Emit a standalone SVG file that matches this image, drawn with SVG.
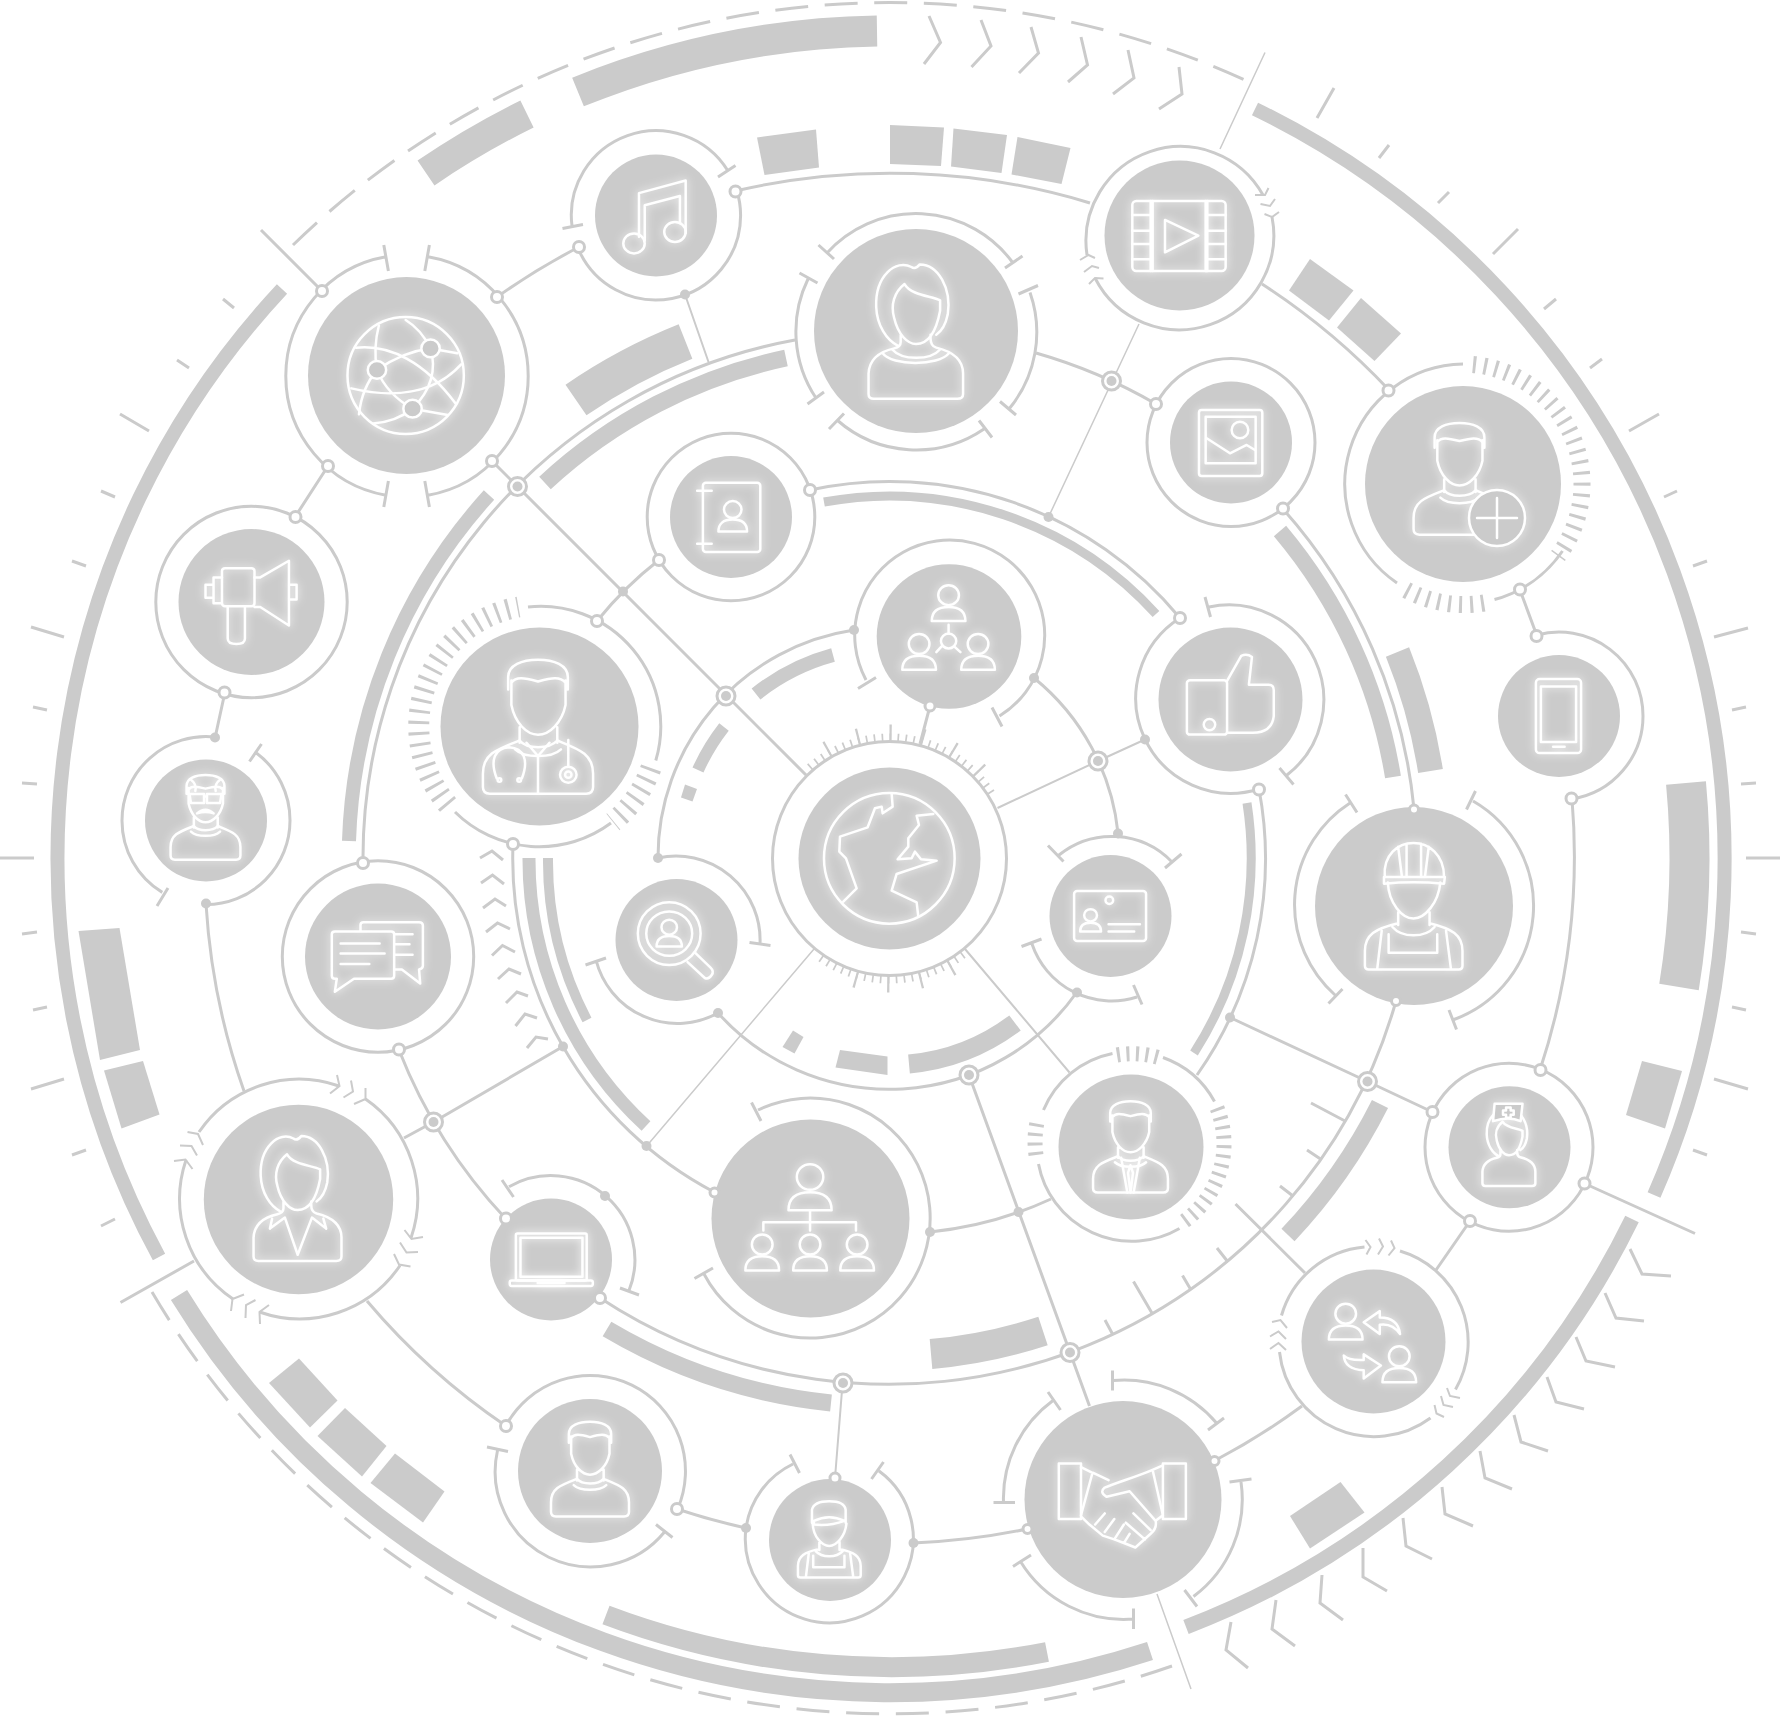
<svg xmlns="http://www.w3.org/2000/svg" xmlns:xlink="http://www.w3.org/1999/xlink" width="1780" height="1718" viewBox="0 0 1780 1718">
<style>
.l{fill:none;stroke:#cbcbcb;stroke-width:3}
.m{fill:none;stroke:#cbcbcb;stroke-width:2}
.t{fill:none;stroke:#cbcbcb;stroke-width:1.5}
.k{fill:none;stroke:#cbcbcb}
.tk{fill:none;stroke:#cbcbcb;stroke-dasharray:3 8}
.b{fill:#cbcbcb}
.d{fill:#cbcbcb}
.o{fill:#fff;stroke:#cbcbcb;stroke-width:3}
.s{fill:#cbcbcb}
.i{fill:none;stroke:#fff;stroke-width:2.5;stroke-linejoin:round;stroke-linecap:round}
.i,.i *{vector-effect:non-scaling-stroke}
.f{fill:#cbcbcb}
</style>
<defs>
<filter id="glow" x="-30%" y="-30%" width="160%" height="160%"><feGaussianBlur in="SourceGraphic" stdDeviation="4" result="b"/><feMerge><feMergeNode in="b"/><feMergeNode in="SourceGraphic"/></feMerge></filter>
<g id="j"><circle class="o" r="9"/><circle class="s" r="5"/></g>
<g id="p" class="i"><circle cy="-70" r="27"/><path d="M-44 0H44Q44-38 0-38Q-44-38-44 0Z"/></g>
<g id="man" class="i"><path d="M-65-90V-118C-65-145-35-157 0-157C35-157 65-145 65-118V-90M-58-105C-48-120-30-116 0-108C30-116 48-120 60-105M-58-110V-55C-50-15-25 12 0 12C25 12 52-15 60-55V-110M-40-5V30M42-5V30M-50 45C-30 65 30 65 50 45M-40 25C-25 45 25 45 42 25"/><path d="M-40 25C-90 45-120 55-120 100V130Q-120 145-105 145H105Q120 145 120 130V100C120 55 90 45 42 25"/></g>
<g id="woman" class="i"><path d="M-12-173C-52-195-107-150-104-65C-102-15-77 25-47 40M-12-173Q-2-165 10-180C58-180 93-115 83-45C78-20 68 0 53 10M-30-127C-57-105-67-70-57-35C-47 10-22 35 0 35C33 35 53 0 63-55V-83C43-95-12-95-30-127ZM-40 10V30Q-40 43-57 47C-92 55-122 75-124 115V170Q-124 183-110 183H108Q123 183 123 170V115C123 75 93 55 53 45Q38 40 38 20V10"/></g>
<g id="wb" class="i"><path d="M-67-235C-65-180-30-138 0-138C30-138 65-180 70-235M-40-155V-120M42-155V-120M-55-115C-30-85 30-85 55-115M-40-125C-100-110-127-95-127-50V-10Q-127 0-117 0H118Q128 0 128-10V-50C128-95 100-110 42-125M-83-105L-95 0M85-105L98 0M-65-95V-45H62V-95"/></g>
</defs>
<rect width="1780" height="1718" fill="#fff"/>
<g id="rings-and-bands">
<path class="k" stroke-width="14" d="M159 1257A834 834 0 0 1 282 289"/>
<path class="k" stroke-width="14" d="M1255 109A834 834 0 0 1 1654 1195"/>
<path class="k" stroke-width="15" d="M1632 1219A824 824 0 0 1 1186 1627"/>
<path class="k" stroke-width="19" d="M1150 1651A834 834 0 0 1 179 1295"/>
<path class="l" stroke-dasharray="33 16.600" d="M293 245A855 855 0 0 1 1245 80"/>
<path class="l" stroke-dasharray="33 16.740" d="M152 1292A856 856 0 0 0 1172 1666"/>
<path class="l" d="M0 858H34M1746 858H1780M31 627L64 637M33 707L47 710M22 783L37 784M22 934L37 932M33 1010L47 1007M31 1089L64 1079M72 561L86 566M101 491L115 497M120 414L149 431M177 360L189 368M223 299L234 308M1714 637L1748 628M1732 710L1746 707M1741 784L1756 783M1741 932L1756 934M1732 1007L1746 1010M1714 1079L1748 1089M1693 566L1707 561M1664 497L1677 491M1629 431L1659 414M1590 368L1602 359M1544 309L1556 299M1493 254L1518 229M1438 203L1449 192M1379 158L1389 145M1317 118L1334 88M72 1155L86 1150M101 1226L115 1219M1693 1150L1707 1155" stroke-width="2.500"/>
<path class="l" d="M929 16L940.500 42.500L924 64M981 20L991 46L971.500 67M1031 27L1038.500 53L1019 73M1081 37L1087.500 65L1068 82M1128 50L1134 78L1113 94M1179 67L1182 94L1159 109"/>
<path class="l" d="M1630 1249L1642 1274L1671 1276M1605 1293L1616 1318L1644 1321M1576 1337L1586 1361L1615 1367M1547 1377L1556 1402L1584 1409M1514 1415L1521 1442L1548 1451M1480 1451L1485 1478L1512 1489M1442 1487L1445 1514L1473 1526M1403 1518L1406 1546L1432 1559M1363 1548V1577L1387 1591M1322 1575L1320 1603L1343 1620M1276 1600L1272 1629L1295 1646M1231 1622L1226 1650L1248 1668"/>
<path class="l" d="M480 858L492 851L503 860M481 883L492.500 875L504 884M483 908L495 899L506 906M486 932L497.500 923L510 929M492 955.500L502.500 945.500L515 952M498 979L509 969L521 974M506 1003L517 992L528 996M515.500 1026L525 1014L537 1018M527 1048L536 1037L548 1039"/>
<polygon class="b" points="78.500,931 119.500,928 140,1050 100,1060"/>
<polygon class="b" points="104,1070.500 143,1061 159.500,1114.500 121.500,1128.500"/>
<path class="k" stroke-width="40" d="M1686 783A799 799 0 0 1 1679 987"/>
<polygon class="b" points="1642,1061 1682,1071 1665,1128.500 1626,1115"/>
<path class="k" stroke-width="31" d="M578 92A827 827 0 0 1 877 31"/>
<path class="k" stroke-width="30" d="M426 173A827 827 0 0 1 527 114"/>
<polygon class="b" points="269,1383 299,1358.500 337.500,1400.500 310,1427.500"/>
<polygon class="b" points="317.500,1436 345,1408 386.500,1446 362,1476.500"/>
<polygon class="b" points="370.500,1483 395,1453.500 444.500,1491.500 423,1522.500"/>
<path class="k" stroke-width="20" d="M1047 1652A808 808 0 0 1 606 1615"/>
<polygon class="b" points="1290,1516 1340.500,1482 1364.500,1512.500 1310,1548.500"/>
<polygon class="b" points="757,137.500 816,129.500 819,167.500 764.500,175"/>
<polygon class="b" points="890,125 944,127.500 941,166 890,164"/>
<polygon class="b" points="953.500,128.500 1007,135 1001.500,173 951,166.500"/>
<polygon class="b" points="1017.500,137 1070.500,148 1061.500,184 1011.500,174.500"/>
<polygon class="b" points="1310,259 1353.500,290.500 1329,320.500 1289,290.500"/>
<polygon class="b" points="1361,298 1401,333.500 1374.500,361 1337,327.500"/>
<path class="k" stroke-width="37" d="M576 400A555 555 0 0 1 685.500 341.500"/>
<path class="k" stroke-width="17" d="M545 483A510 510 0 0 1 786 358"/>
<path class="k" stroke-width="14" d="M349 841A541 541 0 0 1 489 495"/>
<path class="k" stroke-width="16" d="M1280 531A509 509 0 0 1 1393 777"/>
<path class="k" stroke-width="25" d="M1397.500 652A548 548 0 0 1 1430.500 771"/>
<path class="k" stroke-width="18" d="M1380 1104A548 548 0 0 1 1288 1235"/>
<path class="k" stroke-width="30" d="M1043 1331A497 497 0 0 1 931 1354"/>
<path class="k" stroke-width="17" d="M831 1403A549 549 0 0 1 607 1329"/>
<path class="k" stroke-width="13" d="M646 1126A362 362 0 0 1 529 858"/>
<path class="k" stroke-width="10" d="M587 1020A342 342 0 0 1 548 858"/>
<path class="k" stroke-width="9" d="M1247 803A361 361 0 0 1 1194 1053"/>
<path class="k" stroke-width="9" d="M824 502A361 361 0 0 1 1156 614"/>
<path class="k" stroke-width="14" d="M756 694A212 212 0 0 1 833 655"/>
<path class="k" stroke-width="12" d="M698 770A212 212 0 0 1 724 727"/>
<polygon class="b" points="685,784.500 697,789 692.500,801.500 681,797.500"/>
<polygon class="b" points="793,1030.500 803.500,1037 794.500,1053.500 782.500,1047"/>
<polygon class="b" points="840,1050 887.500,1056.500 887.500,1075 835.500,1067.500"/>
<path class="k" stroke-width="19" d="M1015 1023A207 207 0 0 1 909 1064"/>
</g>
<g id="connectors">
<path class="l" d="M658 858A230 230 0 0 1 854 630M1034 678A230 230 0 0 1 1118 833M1077 992A230 230 0 0 1 718 1013"/>
<path class="l" d="M810 490A377 377 0 0 1 1180 618M597 621A377 377 0 0 1 659 560M513 844A377 377 0 0 0 714 1192M1259 789A376 376 0 0 1 1197 1075M930 1232A377 377 0 0 0 1051 1199"/>
<path class="l" d="M363 863A527 527 0 0 1 795 340M1036 353A527 527 0 0 1 1156 404M1283 509A527 527 0 0 1 1414 809M1396 1001A527 527 0 0 1 600 1298M506 1219A527 527 0 0 1 399 1050"/>
<path class="l" d="M497 297A685 685 0 0 1 579 247M735 191A685 685 0 0 1 1090 203M1262 284A685 685 0 0 1 1389 390M1520 590L1537 636M1572 799A685 685 0 0 1 1540 1070M1470 1221L1436 1270M1302 1406A685 685 0 0 1 1214 1461M1027 1529A685 685 0 0 1 913 1543M746 1528A685 685 0 0 1 677 1509M506 1426A685 685 0 0 1 367 1301M244 1091A685 685 0 0 1 206 904M215 738L225 692M295 517L328 466"/>
<path class="l" d="M261 230L322 291M120.500 1302.500L194 1261M1695 1233.500L1584.500 1183.500M492 461L806 775M930 706L920 744M969 1075L1089.500 1406M1230 1017.500L1367.500 1081.500L1432.500 1112M563 1046.500L433.500 1122L404 1138M1235.500 1204L1305 1273"/>
<path class="m" d="M1145 739.500L1098 761L997.500 808M965 949L1069.500 1072.500M842.500 1384L835 1478M685 294.500L708.500 362"/>
<path class="t" d="M1265 52.500L1220 149M1139 324L1048.500 517M814 949L647.500 1145M1157 1594L1191 1689"/>
<path class="l" stroke-width="2.500" d="M1133.500 1281.500L1152.500 1314M1105 1320L1112.500 1334M1182.500 1275.500L1191 1290M1217 1248L1228 1262M1280 1186L1293 1196M1307 1150L1320.500 1159M1311 1103L1345 1121"/>
</g>
<g id="n-earth">
<circle class="l" cx="889.500" cy="858.500" r="117" stroke-width="3.500" fill="none"/>
<circle class="d" cx="889.500" cy="858.500" r="91"/>
<path class="k" stroke-width="8" stroke-dasharray="1.700 6.220" d="M809.700 767.500A121 121 0 0 1 994.300 798"/>
<path class="k" stroke-width="17" stroke-dasharray="2.200 30.660" d="M826.700 749.800A125.500 125.500 0 0 1 998.200 795.700"/>
<path class="k" stroke-width="8" stroke-dasharray="1.700 6.220" d="M963.200 954.500A121 121 0 0 1 815.800 954.500"/>
<path class="k" stroke-width="17" stroke-dasharray="2.200 30.660" d="M952.200 967.200A125.500 125.500 0 0 1 826.700 967.200"/>
<g filter="url(#glow)"><g class="i" transform="translate(700 650) scale(.3333)"><circle cx="568" cy="625" r="196"/><path d="M575 430L578 470L548 490L545 470L525 475L503 532L420 560L418 605L438 625L470 715L430 755M700 492L650 497L657 525L625 565L625 590L593 628L635 625L645 605L663 628L710 632L590 672L575 722L650 757L655 800"/></g></g>
</g>
<g id="n-web">
<path class="l" d="M428 256.800A121 121 0 0 1 428 495.200M386 495.200A121 121 0 0 1 386 256.800M383.800 245L388.400 271M429.400 245L424.800 271M388.400 481L383.800 507M424.800 481L429.400 507"/>
<circle class="d" cx="406.500" cy="375.500" r="98.500"/>
<g filter="url(#glow)"><g class="i" transform="scale(.3827 .3699)"><ellipse cx="1060" cy="1015" rx="152" ry="158"/><path d="M930 940C1020 930 1110 980 1190 1090M918 1050C1020 1075 1130 1070 1205 985M990 880Q975 940 985 1000Q1010 1065 1078 1105M1060 865Q1100 890 1125 942L1195 955M1125 942Q1150 1030 1078 1105L1170 1122M985 1000Q1055 950 1125 942M985 1000Q945 1050 938 1120M975 1145Q1035 1140 1078 1105"/><circle class="f" cx="1125" cy="942" r="24"/><circle class="f" cx="985" cy="1000" r="24"/><circle class="f" cx="1078" cy="1105" r="24"/></g></g>
</g>
<g id="n-music">
<path class="l" d="M572 226A84.600 84.600 0 0 1 727.700 170.500M736.900 190.800A84.600 84.600 0 0 1 740.600 215.500A84.600 84.600 0 0 1 577.600 247.200M718 177L735.500 165.500M562.500 228.500L583 224.500"/>
<circle class="d" cx="656" cy="215.500" r="61"/>
<g filter="url(#glow)"><g class="i" transform="translate(590 0) scale(.3827 .3699)"><path d="M128 640V522L250 488V630M143 650V555L235 530V603"/><ellipse cx="115" cy="658" rx="28" ry="27"/><ellipse cx="222" cy="627" rx="28" ry="27"/></g></g>
</g>
<g id="n-woman">
<path class="l" d="M826.500 253.500A120 120 0 0 1 1013 263M1030 292.500A120 120 0 0 1 1009 409M984 429A120 120 0 0 1 837 420M816 398A120 120 0 0 1 808 279M818.500 245L834 259M1005 268L1022.500 256M1018.500 294L1038 285.500M1000 401.500L1016 415M979 420.500L992 437.500M844 413.500L829 429M824 392L807.500 404M799.500 273L817.500 283"/>
<circle class="d" cx="916" cy="331" r="102"/>
<g filter="url(#glow)"><g transform="translate(916 331) scale(.3827 .3699)"><use href="#woman"/><path class="i" d="M-87 60C-62 95 58 95 86 60M-62 50C-37 80 38 80 63 50"/></g></g>
</g>
<g id="n-video">
<path class="l" d="M1087 255A94.500 94.500 0 0 1 1263 195M1272 217A94.500 94.500 0 0 1 1095 278"/>
<path class="m" d="M1255 195L1265 195L1268.500 188M1260.500 204L1270 206L1275 199M1264.500 214L1272 217L1279 212M1080 260L1088.500 255L1095 258M1084 272L1092 266L1099 268M1089 284L1095 278L1103.500 278.500"/>
<circle class="d" cx="1179.500" cy="235.500" r="75"/>
<g filter="url(#glow)"><g class="i" transform="translate(1050 100) scale(.3333)"><rect x="247" y="303" width="280" height="210" rx="12"/><path d="M302 303V513M308 303V513M467 303V513M472 303V513M247 345H302M247 392H302M247 432H302M247 478H302M472 345H527M472 392H527M472 432H527M472 478H527M345 360L445 407L345 457Z"/></g></g>
</g>
<g id="n-image">
<circle class="l" cx="1231" cy="442.500" r="84"/>
<circle class="d" cx="1231" cy="442.500" r="61"/>
<g filter="url(#glow)"><g class="i" transform="translate(1050 100) scale(.3333)"><rect x="447" y="930" width="190" height="198" rx="8"/><rect x="467" y="950" width="150" height="140"/><circle cx="570" cy="990" r="25"/><path d="M470 1015L540 1060L590 1035L615 1050"/></g></g>
</g>
<g id="n-addperson">
<path class="l" d="M1463 364A120 120 0 0 0 1397 583M1494.500 599.500A120 120 0 0 0 1562.500 551"/>
<path class="tk" stroke-width="17" d="M1473 364.500A120 120 0 0 1 1558 556"/>
<path class="tk" stroke-width="17" d="M1484 603A121 121 0 0 1 1403 588"/>
<circle class="d" cx="1463" cy="484" r="98"/>
<g filter="url(#glow)"><use href="#man" transform="translate(1459.500 481) scale(.3827 .3699)"/><circle class="i f" cx="1497" cy="518" r="28"/><path class="i" d="M1477 518H1517M1497 498V538"/></g>
</g>
<g id="n-phone">
<path class="l" d="M1537 635A84 84 0 0 1 1643 716A84 84 0 0 1 1571.500 799"/>
<circle class="d" cx="1559" cy="716" r="61"/>
<g filter="url(#glow)"><g class="i" transform="translate(1180 570) scale(.3827 .3699)"><rect x="930" y="295" width="118" height="200" rx="10"/><rect x="943" y="315" width="92" height="150"/><path d="M975 478H1005"/></g></g>
</g>
<g id="n-megaphone">
<circle class="l" cx="251.500" cy="602" r="95.700"/>
<circle class="d" cx="251.500" cy="602" r="73"/>
<g filter="url(#glow)"><g class="i" transform="translate(0 570) scale(.3827 .3699)"><rect x="580" y="-5" width="85" height="103" rx="8"/><path d="M595 98V185Q595 200 618 200Q640 200 640 185V98M665 20H680L755-25V150L680 100H665M580 20H558V90H580M558 40H537V75H558M755 40H775V80H755"/></g></g>
</g>
<g id="n-glasses">
<path class="l" d="M256.400 753A84 84 0 0 1 290 820.500A84 84 0 0 1 206 904.500M162.300 892.400A84 84 0 0 1 122 820.500A84 84 0 0 1 215 737M261.500 744L249.500 761.500M168 888L157 906"/>
<circle class="d" cx="206" cy="820.500" r="61"/>
<g filter="url(#glow)"><g transform="translate(205.500 819) scale(.291 .281)"><use href="#man"/><path class="i" d="M-55-89H-5V-57H-50ZM55-89H5V-57H50ZM-5-80H5M-29-20Q0-45 28-20Q0-30-29-20ZM-50-140Q-30-125-35-100M50-140Q30-125 35-100"/></g></g>
</g>
<g id="n-chat">
<circle class="l" cx="378" cy="956.500" r="95.700"/>
<circle class="d" cx="378" cy="956.500" r="73"/>
<g filter="url(#glow)"><g class="i" transform="translate(0 570) scale(.3827 .3699)"><path d="M875 977H1022Q1030 977 1030 985V1097Q1030 1105 1022 1105H925L875 1140L880 1105H875Q867 1105 867 1097V985Q867 977 875 977ZM942 975V960Q942 952 950 952H1095Q1105 952 1105 962V1070Q1105 1078 1095 1080L1098 1118L1050 1080H1030M890 1010H992M890 1037H1005M890 1065H965M1032 985H1078M1032 1012H1070M1032 1040H1078"/></g></g>
</g>
<g id="n-doctor">
<path class="l" d="M528 607A120 120 0 0 1 655.800 760.500M611 823A120 120 0 0 1 455 812"/>
<path class="tk" stroke-width="21" d="M448 805A121 121 0 0 1 518.500 607"/>
<path class="tk" stroke-width="21" d="M651 768A121 121 0 0 1 613 822"/>
<circle class="d" cx="539.500" cy="726.500" r="99"/>
<g filter="url(#glow)"><g transform="translate(538 729.400) scale(.459 .444)"><use href="#man"/><path class="i" d="M0 60V145M-25 30L0 60L25 30M-90 110C-105 70-95 42-63 40C-30 42-20 70-35 110M66 24V84"/><circle class="i" cx="66" cy="102" r="18"/><circle class="i" cx="66" cy="102" r="7"/><circle class="i" cx="-84" cy="114" r="4"/><circle class="i" cx="-41" cy="114" r="4"/></g></g>
</g>
<g id="n-address">
<circle class="l" cx="731" cy="517" r="83.800"/>
<circle class="d" cx="731" cy="517" r="61"/>
<g filter="url(#glow)"><g transform="translate(590 0) scale(.3827 .3699)"><rect class="i" x="295" y="1305" width="150" height="187" rx="8"/><path class="i" d="M280 1327H318M280 1470H318"/><use href="#p" transform="translate(373 1437) scale(.85)"/></g></g>
</g>
<g id="n-network">
<path class="l" d="M866 680A95 95 0 1 1 999.500 716M858 688.500L876 677.500M992 707.500L1002 726.500"/>
<circle class="d" cx="949" cy="636.500" r="72.300"/>
<g filter="url(#glow)"><g transform="translate(590 570) scale(.3827 .3699)"><use href="#p" transform="translate(937 138)"/><use href="#p" transform="translate(860 270)"/><use href="#p" transform="translate(1014 270)"/><circle class="i" cx="937" cy="192" r="20"/><path class="i" d="M937 148V172M920 205L905 222M952 207L968 222"/></g></g>
</g>
<g id="n-thumb">
<path class="l" d="M1209 607A95 95 0 0 1 1287 775M1259 789A95 95 0 0 1 1180 618M1205 597L1210.500 617M1279.500 768L1293.500 784.500"/>
<circle class="d" cx="1230.500" cy="699.500" r="72"/>
<g filter="url(#glow)"><g class="i" transform="translate(1180 570) scale(.3827 .3699)"><rect x="18" y="298" width="105" height="147" rx="8"/><circle cx="77" cy="418" r="15"/><path d="M123 300L160 232Q175 225 188 235L180 310H232Q245 310 245 325V395Q240 440 190 440H123"/></g></g>
</g>
<g id="n-worker">
<path class="l" d="M1335 995A121 121 0 0 1 1350 803M1473 801A121 121 0 0 1 1454 1019.500M1328.500 1003.500L1342.500 989M1345.500 794.500L1357 812.500M1475.500 791L1466.500 809.500M1449 1010L1456.500 1029.500"/>
<circle class="d" cx="1414" cy="906" r="99"/>
<g filter="url(#glow)"><use href="#wb" transform="translate(1413.500 969.500) scale(.3827 .3699)"/><g class="i" transform="translate(1180 570) scale(.3827 .3699)"><path d="M535 830C530 770 570 738 610 738C650 738 690 770 690 830ZM533 830H692L690 848Q610 840 533 848ZM570 748L580 830M650 748L640 830M592 740V830M630 740V830"/></g></g>
</g>
<g id="n-idcard">
<path class="l" d="M1059 855A84 84 0 0 1 1172 862M1137 997A84 84 0 0 1 1032 944M1048 845.500L1063.500 861.500M1181.500 854L1165 868M1021.500 946.500L1041.500 939M1133.500 985L1142 1004.500"/>
<circle class="d" cx="1110.500" cy="916" r="61"/>
<g filter="url(#glow)"><g transform="translate(590 570) scale(.3827 .3699)"><rect class="i" x="1265" y="868" width="188" height="135" rx="8"/><circle class="i" cx="1357" cy="893" r="10"/><use href="#p" transform="translate(1308 977) scale(.62)"/><path class="i" d="M1355 958H1437M1355 977H1422"/></g></g>
</g>
<g id="n-search">
<path class="l" d="M658 858A84 84 0 0 1 760 944M718 1013A84 84 0 0 1 596 960M749.500 942.500L770.500 945.500M585.500 965L606 958"/>
<circle class="d" cx="676.500" cy="940" r="61"/>
<g filter="url(#glow)"><g transform="translate(590 570) scale(.3827 .3699)"><ellipse class="i" cx="207" cy="983" rx="82" ry="85"/><circle class="i" cx="207" cy="983" r="60"/><use href="#p" transform="translate(207 1018) scale(.75)"/><path class="i" d="M255 1060L300 1103Q310 1108 318 1095Q325 1085 315 1075L275 1035"/></g></g>
</g>
<g id="n-boss">
<path class="l" d="M1043.500 1110A95 95 0 0 1 1112.500 1053.500M1163 1057.500A95 95 0 0 1 1214.500 1101.500M1179.500 1228.500A95 95 0 0 1 1038.500 1164"/>
<g stroke-dasharray="3 6.500"><path class="k" stroke-width="15" d="M1117 1055A93 93 0 0 1 1160 1058"/><path class="k" stroke-width="15" d="M1217 1108A95 95 0 0 1 1180 1224"/><path class="k" stroke-width="15" d="M1036 1155A95 95 0 0 1 1038 1118"/></g>
<circle class="d" cx="1131" cy="1147" r="72.500"/>
<g filter="url(#glow)"><g transform="translate(1130.500 1148.700) scale(.312 .3015)"><use href="#man"/><path class="i" d="M-30 30L-10 145M30 30L10 145M0 55L-8 80L0 145L8 80Z"/></g></g>
</g>
<g id="n-nurse">
<circle class="l" cx="1509" cy="1147.300" r="84"/>
<circle class="d" cx="1509.500" cy="1147.300" r="61"/>
<g filter="url(#glow)"><use href="#woman" transform="translate(1509 1148) scale(.2143 .2071)"/><g class="i" transform="translate(1180 570) scale(.3827 .3699)"><path class="f" d="M822 1443H895L890 1490Q860 1475 818 1490Z"/><path d="M852 1453H864V1461H872V1473H864V1481H852V1473H844V1461H852Z"/></g></g>
</g>
<g id="n-exchange">
<path class="l" d="M1281.500 1315.500A95 95 0 0 1 1364.500 1247M1400 1251A95 95 0 0 1 1455.500 1389.500M1430.500 1418A95 95 0 0 1 1279.500 1352"/>
<path class="m" d="M1365.500 1240L1370.500 1247L1366.500 1254.500M1379 1238.500L1383 1246.500L1378 1254.500M1391 1240.500L1394.500 1248L1388.500 1255.500M1272 1322L1280.500 1320L1287 1328M1270 1336.500L1278.500 1331.500L1286 1339M1270 1349L1278.500 1343L1286 1350M1447 1388L1450 1396L1460 1398M1441 1396L1443.500 1405L1453 1407M1434.500 1405L1436.500 1413.500L1444 1417"/>
<circle class="d" cx="1373.500" cy="1341.500" r="72"/>
<g filter="url(#glow)"><g transform="translate(1180 1138) scale(.3827 .3699)"><use href="#p" transform="translate(433 545)"/><use href="#p" transform="translate(573 660)"/><path class="i" d="M480 498L522 468V485Q570 485 575 530Q555 500 522 505V530ZM525 615L480 585V600Q440 602 428 588Q430 625 480 628V650Z"/></g></g>
</g>
<g id="n-businesswoman">
<path class="l" d="M199 1132A121 121 0 0 1 339 1086M365.500 1099A121 121 0 0 1 411 1238M400 1265.500A121 121 0 0 1 259.500 1312M233 1299A121 121 0 0 1 186 1160"/>
<path class="m" d="M330 1093.500L339.500 1086L337 1075M343.500 1097.500L353 1091.500L351 1080.500M354 1104L365.500 1099V1088M187.500 1132L198 1134L203 1145M180 1145.500L191.500 1146L197 1155.500M174 1161L185.500 1159.500L192.500 1169M423 1237L411.500 1239L404.500 1230M418 1252L406.500 1252.500L400 1242.500M410.500 1266.500L399 1264.500L394 1254M244 1294.500L232.500 1299L231 1311M255.500 1300L246 1305L245.500 1318M269 1305L259.500 1312L260 1324"/>
<circle class="d" cx="298.500" cy="1199.500" r="94.700"/>
<g filter="url(#glow)"><g transform="translate(297.700 1198) scale(.356 .344)"><use href="#woman"/><path class="i" d="M-78 89L-36 57L0 165L40 57L80 89M-78 89L-72 60M80 89L72 60"/></g></g>
</g>
<g id="n-laptop">
<path class="l" d="M509 1186.800A84 84 0 0 1 629 1290.500M502 1180L513.500 1197M620 1288L639 1295"/>
<circle class="d" cx="551" cy="1259.500" r="61"/>
<g filter="url(#glow)"><g class="i" transform="translate(0 1138) scale(.3827 .3699)"><rect x="1348" y="258" width="185" height="127" rx="4"/><rect x="1360" y="270" width="162" height="105"/><rect x="1332" y="385" width="217" height="15" rx="5"/><path d="M1405 392H1475"/></g></g>
</g>
<g id="n-org">
<path class="l" d="M758 1110A120 120 0 1 1 704 1274M751.500 1102.500L761 1121M694.500 1278.500L713 1268"/>
<circle class="d" cx="810.500" cy="1218.500" r="99"/>
<g filter="url(#glow)"><g transform="translate(590 1138) scale(.3827 .3699)"><use href="#p" transform="translate(575 195) scale(1.28)"/><path class="i" d="M575 197V250M453 250V228H695V250"/><use href="#p" transform="translate(450 358)"/><use href="#p" transform="translate(575 358)"/><use href="#p" transform="translate(698 358)"/></g></g>
</g>
<g id="n-man">
<path class="l" d="M664.500 1532A95.500 95.500 0 0 1 497.500 1450.500M505.800 1425.900A95.500 95.500 0 0 1 631.900 1385.200A95.500 95.500 0 0 1 677.500 1509.200M487 1447L508 1451.500M656 1524.500L672.500 1537.500"/>
<circle class="d" cx="590" cy="1471" r="72"/>
<g filter="url(#glow)"><use href="#man" transform="translate(590 1471) scale(.325 .314)"/></g>
</g>
<g id="n-mechanic">
<path class="l" d="M879 1471A84 84 0 1 1 746 1528M746 1528A84 84 0 0 1 793 1464M790 1454.500L799.500 1473M883.500 1462L871.500 1479"/>
<circle class="d" cx="830" cy="1540" r="61"/>
<g filter="url(#glow)"><use href="#wb" transform="translate(829.200 1577.500) scale(.246 .229)"/><g class="i" transform="translate(590 1138) scale(.3827 .3699)"><path d="M580 1040V1005Q585 982 625 982Q665 982 668 1005V1040M585 1035Q625 1015 665 1035Q625 1050 585 1045Z"/></g></g>
</g>
<g id="n-handshake">
<path class="l" d="M1113 1380.500A121 121 0 0 1 1216.500 1423M1241 1482A121 121 0 0 1 1193.500 1596.500M1133.500 1619A121 121 0 0 1 1020.500 1561.500M1003.500 1502.500A121 121 0 0 1 1053 1400.500M1112.500 1370.500V1390.500M1224 1418L1208 1430M1229.500 1482L1251.500 1479M1184.500 1590L1197 1606.500M1133.500 1608.500V1629M1013 1566.500L1031 1555M993.500 1502.500H1015M1048 1392L1060.500 1410"/>
<circle class="d" cx="1123" cy="1499.500" r="98.500"/>
<g filter="url(#glow)"><g class="i" transform="translate(590 1138) scale(.3827 .3699)"><rect x="1225" y="880" width="58" height="150"/><rect x="1497" y="880" width="60" height="150"/><path d="M1283 890L1313 905L1283 1020M1497 885L1470 897L1497 1020L1478 1035M1470 897C1430 915 1380 930 1345 945Q1330 958 1350 970L1410 955L1478 1035Q1482 1055 1465 1070L1425 1107L1395 1095L1370 1085L1340 1075L1305 1045L1285 1025M1315 905L1355 925M1320 1045L1345 1015M1345 1065L1370 1030M1370 1085L1395 1045M1395 1095L1410 1070M1420 1015L1465 1060M1400 1040L1450 1085"/></g></g>
</g>
<g id="junctions">
<use href="#j" x="517.500" y="486.500"/><use href="#j" x="726" y="696"/><use href="#j" x="1098" y="761"/><use href="#j" x="969" y="1075"/><use href="#j" x="1367.500" y="1081.500"/><use href="#j" x="843" y="1383"/><use href="#j" x="1070" y="1352.500"/><use href="#j" x="433.500" y="1122"/><use href="#j" x="1111.500" y="381"/>
<circle class="s" cx="623" cy="591.500" r="5"/><circle class="s" cx="1018.500" cy="1212" r="5"/><circle class="s" cx="1145" cy="739.500" r="5"/><circle class="s" cx="1230" cy="1017.500" r="5"/><circle class="s" cx="563" cy="1046.500" r="5"/><circle class="s" cx="685" cy="294.500" r="5"/><circle class="s" cx="1048.500" cy="517" r="5"/><circle class="s" cx="646.500" cy="1146" r="5"/><circle class="s" cx="854" cy="630" r="5"/><circle class="s" cx="1034" cy="678" r="5"/><circle class="s" cx="658" cy="858" r="5"/><circle class="s" cx="1118" cy="833.500" r="5"/><circle class="s" cx="1077" cy="992.500" r="5"/><circle class="s" cx="718" cy="1013" r="5"/><circle class="s" cx="215" cy="737.500" r="5"/><circle class="s" cx="206" cy="903.500" r="5"/><circle class="s" cx="605" cy="1196" r="5"/><circle class="s" cx="930" cy="1232" r="5"/><circle class="s" cx="746" cy="1528" r="5"/><circle class="s" cx="913.500" cy="1543" r="5"/>
<circle class="o" cx="322" cy="291" r="5.500"/><circle class="o" cx="497" cy="297" r="5.500"/><circle class="o" cx="492" cy="461" r="5.500"/><circle class="o" cx="328" cy="466" r="5.500"/><circle class="o" cx="295.500" cy="517" r="5.500"/><circle class="o" cx="224.500" cy="692.500" r="5.500"/><circle class="o" cx="579" cy="247" r="5.500"/><circle class="o" cx="735.500" cy="191.500" r="5.500"/><circle class="o" cx="810" cy="490" r="5.500"/><circle class="o" cx="659" cy="560" r="5.500"/><circle class="o" cx="597" cy="621" r="5.500"/><circle class="o" cx="1156" cy="404" r="5.500"/><circle class="o" cx="1283" cy="508.500" r="5.500"/><circle class="o" cx="1388.500" cy="390.500" r="5.500"/><circle class="o" cx="1520" cy="589.500" r="5.500"/><circle class="o" cx="1536.500" cy="636" r="5.500"/><circle class="o" cx="1571.500" cy="798.500" r="5.500"/><circle class="o" cx="1180" cy="618" r="5.500"/><circle class="o" cx="1259" cy="789.500" r="5.500"/><circle class="o" cx="930" cy="706" r="5"/><circle class="o" cx="513" cy="844" r="5.500"/><circle class="o" cx="363" cy="863" r="5.500"/><circle class="o" cx="399" cy="1049.500" r="5.500"/><circle class="o" cx="506" cy="1218.500" r="5.500"/><circle class="o" cx="600" cy="1298" r="5.500"/><circle class="o" cx="506" cy="1426" r="5.500"/><circle class="o" cx="677" cy="1509" r="5.500"/><circle class="o" cx="714.500" cy="1192.500" r="4.500"/><circle class="o" cx="835" cy="1478" r="5"/><circle class="o" cx="1027.500" cy="1529" r="4.500"/><circle class="o" cx="1214.500" cy="1461" r="4.500"/><circle class="o" cx="1414" cy="809.500" r="4.500"/><circle class="o" cx="1396" cy="1001" r="4.500"/><circle class="o" cx="1540.500" cy="1070" r="5.500"/><circle class="o" cx="1432.500" cy="1112" r="5.500"/><circle class="o" cx="1584.500" cy="1183.500" r="5.500"/><circle class="o" cx="1470" cy="1221" r="5.500"/>
</g>
</svg>
